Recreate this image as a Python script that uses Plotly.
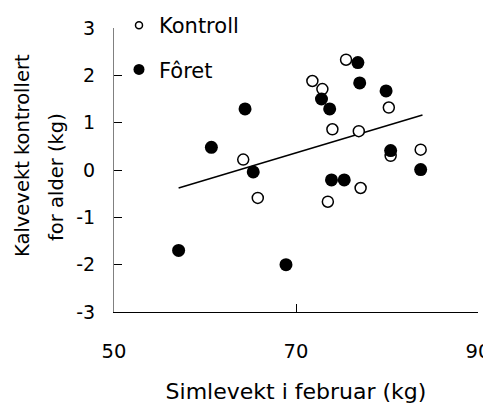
import plotly.graph_objects as go

# Kontroll (open circles)
kontroll_x = [75.5, 71.8, 72.9, 80.2, 74.0, 76.9, 80.4, 83.7, 64.2, 65.8, 73.5, 77.1]
kontroll_y = [2.33, 1.88, 1.71, 1.32, 0.86, 0.82, 0.30, 0.43, 0.22, -0.59, -0.67, -0.38]

# Fôret (filled circles)
foret_x = [76.8, 77.0, 79.9, 72.8, 73.7, 64.4, 60.7, 80.4, 65.3, 73.9, 75.3, 83.7, 57.1, 68.9]
foret_y = [2.27, 1.84, 1.67, 1.50, 1.29, 1.29, 0.48, 0.41, -0.04, -0.21, -0.21, 0.01, -1.70, -2.00]

# Regression line endpoints
line_x = [57.1, 83.9]
line_y = [-0.38, 1.16]

x_ticks = [50, 70, 90]
y_ticks = [-3, -2, -1, 0, 1, 2, 3]

FONT = "DejaVu Sans"
OFF = 8  # default body margin of the html page
W, H = 491 - OFF, 405 - OFF
L, R, T, B = 114 - OFF, 13, 28 - OFF, 93
PW, PH = W - L - R, H - T - B

def px2paper(px, py):
    """page pixel -> paper coordinates"""
    fx, fy = px - OFF, py - OFF
    return (fx - L) / PW, (H - B - fy) / PH

fig = go.Figure()

fig.add_trace(go.Scatter(x=line_x, y=line_y, mode="lines",
                         line=dict(color="black", width=1.5),
                         showlegend=False, hoverinfo="skip"))
fig.add_trace(go.Scatter(x=kontroll_x, y=kontroll_y, mode="markers",
                         marker=dict(symbol="circle", size=11, color="white",
                                     line=dict(color="black", width=1.5)),
                         showlegend=False, cliponaxis=False))
fig.add_trace(go.Scatter(x=foret_x, y=foret_y, mode="markers",
                         marker=dict(symbol="circle", size=13, color="black",
                                     line=dict(color="black", width=0)),
                         showlegend=False, cliponaxis=False))
# legend entries
fig.add_trace(go.Scatter(x=[None], y=[None], mode="markers", name="Kontroll",
                         legendgroup="k",
                         marker=dict(symbol="circle", size=7, color="white",
                                     line=dict(color="black", width=1.5))))
fig.add_trace(go.Scatter(x=[None], y=[None], mode="markers", name="Fôret",
                         legendgroup="f",
                         marker=dict(symbol="circle", size=11, color="black")))

lx, ly = px2paper(119, 5)
fig.update_layout(
    width=W, height=H,
    margin=dict(l=L, r=R, t=T, b=B, pad=0, autoexpand=False),
    paper_bgcolor="white", plot_bgcolor="white",
    font=dict(family=FONT, size=19, color="black"),
    showlegend=True,
    legend=dict(x=lx, y=ly, xanchor="left", yanchor="top",
                bgcolor="rgba(0,0,0,0)", borderwidth=0,
                font=dict(family=FONT, size=21, color="black"),
                itemwidth=30, tracegroupgap=14),
    xaxis=dict(range=[50, 90], tickvals=x_ticks, ticktext=[str(v) for v in x_ticks],
               automargin=False,
               showgrid=False, zeroline=False, showline=True, linecolor="black",
               linewidth=1.2, ticks="inside", ticklen=8, tickcolor="black",
               tickwidth=1, ticklabelstandoff=21,
               tickfont=dict(family=FONT, size=19.5),
               title=dict(text="Simlevekt i februar (kg)",
                          font=dict(family=FONT, size=22), standoff=22)),
    yaxis=dict(range=[-3, 3], tickvals=y_ticks, ticktext=[str(v) for v in y_ticks],
               automargin=False,
               showgrid=False, zeroline=False, showline=True, linecolor="#808080",
               linewidth=1.2, ticks="inside", ticklen=8, tickcolor="black",
               tickwidth=1, ticklabelstandoff=14,
               tickfont=dict(family=FONT, size=19)),
)

a1x, a1y = px2paper(22, 156)
a2x, a2y = px2paper(56, 177)
fig.add_annotation(x=a1x, y=a1y, xref="paper", yref="paper", text="Kalvevekt kontrollert",
                   textangle=-90, showarrow=False, xanchor="center", yanchor="middle",
                   font=dict(family=FONT, size=19.5, color="black"))
fig.add_annotation(x=a2x, y=a2y, xref="paper", yref="paper", text="for alder (kg)",
                   textangle=-90, showarrow=False, xanchor="center", yanchor="middle",
                   font=dict(family=FONT, size=19.5, color="black"))

fig.write_html("out.html")
